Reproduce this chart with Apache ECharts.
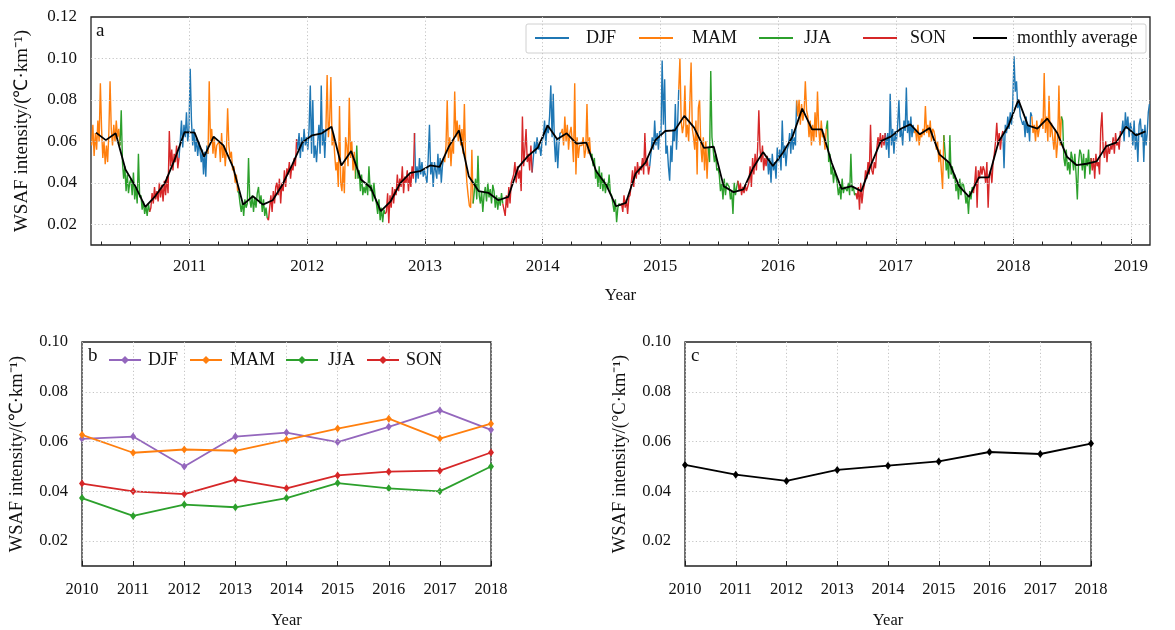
<!DOCTYPE html>
<html><head><meta charset="utf-8">
<script src="https://cdn.jsdelivr.net/npm/echarts@6/dist/echarts.min.js"></script>
<style>html,body{margin:0;padding:0;background:#fff}#c{width:1175px;height:630px}</style>
</head><body><div id="c"></div>
<script>
// ---------- DATA ----------
// Daily WSAF intensity, sampled 8 times per month, one array per season-year (Mar Y .. Feb Y+1)
const d2010 = [
.058,.068,.053,.064,.056,.070,.060,.088, .066,.052,.060,.049,.058,.050,.064,.089, .066,.058,.068,.060,.070,.062,.066,.058,
.075,.050,.042,.048,.036,.044,.035,.040, .042,.034,.045,.032,.038,.030,.054,.033, .034,.027,.031,.025,.029,.024,.030,.026,
.028,.035,.030,.038,.032,.036,.031,.040, .033,.039,.031,.041,.034,.043,.035,.065, .048,.056,.046,.054,.050,.058,.047,.052,
.060,.070,.057,.068,.062,.074,.060,.066, .095,.070,.058,.066,.055,.062,.053,.060, .060,.050,.056,.044,.055,.043,.058,.054];
const d2011 = [
.089,.060,.066,.054,.062,.052,.058,.058, .060,.050,.064,.052,.058,.048,.056,.076, .058,.052,.055,.046,.048,.040,.044,.036,
.035,.030,.026,.031,.024,.032,.028,.030, .052,.032,.028,.034,.026,.033,.028,.035, .038,.030,.034,.026,.032,.024,.028,.023,
.022,.028,.034,.026,.036,.030,.038,.040, .034,.042,.030,.040,.036,.046,.038,.047, .044,.050,.042,.048,.046,.052,.048,.061,
.056,.064,.052,.062,.055,.066,.058,.062, .056,.066,.087,.054,.080,.052,.058,.050, .060,.068,.054,.087,.058,.066,.052,.066];
const d2012 = [
.092,.062,.070,.091,.058,.064,.054,.046, .050,.038,.077,.040,.036,.048,.035,.062, .058,.048,.081,.052,.060,.046,.055,.042,
.058,.042,.046,.036,.044,.034,.038,.035, .040,.034,.048,.036,.039,.031,.040,.033, .030,.025,.032,.022,.028,.021,.027,.025,
.026,.035,.0205,.034,.028,.038,.030,.037, .034,.044,.036,.042,.038,.048,.035,.043, .040,.046,.036,.044,.038,.048,.042,.064,
.040,.048,.042,.052,.044,.050,.043,.046, .046,.040,.052,.068,.044,.050,.038,.050, .050,.042,.054,.044,.052,.040,.048,.052];
const d2013 = [
.050,.058,.080,.052,.062,.048,.060,.054, .084,.062,.070,.060,.068,.058,.066,.054, .078,.050,.040,.034,.029,.028,.056,.030,
.036,.042,.032,.053,.034,.030,.036,.026, .034,.038,.031,.040,.033,.037,.030,.039, .036,.028,.034,.027,.033,.029,.035,.030,
.030,.024,.034,.028,.038,.030,.040,.042, .044,.050,.040,.048,.042,.046,.036,.072, .048,.056,.066,.050,.054,.046,.058,.045,
.052,.060,.054,.062,.056,.058,.053,.060, .062,.070,.058,.068,.064,.072,.087,.062, .083,.060,.050,.062,.047,.058,.064,.064];
const d2014 = [
.066,.058,.072,.060,.068,.056,.064,.067, .060,.050,.088,.044,.062,.052,.058,.058, .058,.062,.052,.056,.078,.054,.062,.053,
.054,.048,.052,.042,.046,.038,.048,.037, .045,.036,.042,.035,.040,.037,.044,.035, .034,.030,.026,.032,.021,.028,.030,.029,
.030,.026,.034,.028,.032,.025,.033,.034, .040,.046,.038,.048,.042,.050,.044,.048, .046,.052,.044,.064,.048,.052,.044,.048,
.054,.062,.056,.070,.058,.064,.056,.065, .062,.099,.068,.090,.054,.058,.048,.041, .058,.050,.066,.060,.078,.056,.068,.085];
const d2015 = [
.100,.070,.064,.068,.087,.062,.068,.060, .060,.098,.066,.062,.056,.070,.044,.076, .080,.058,.050,.062,.046,.060,.042,.057,
.050,.094,.062,.056,.050,.054,.046,.047, .044,.036,.040,.032,.042,.034,.040,.039, .038,.032,.036,.025,.040,.034,.038,.041,
.036,.040,.034,.038,.035,.039,.036,.036, .040,.048,.038,.052,.044,.054,.046,.056, .075,.056,.050,.058,.046,.052,.048,.053,
.044,.052,.040,.054,.046,.050,.042,.057, .050,.056,.046,.070,.052,.058,.048,.056, .058,.064,.054,.066,.056,.062,.058,.080];
const d2016 = [
.072,.080,.068,.078,.070,.074,.089,.075, .072,.062,.070,.058,.068,.060,.074,.062, .084,.066,.058,.070,.062,.064,.056,.066,
.070,.050,.054,.044,.048,.040,.046,.046, .040,.034,.038,.032,.042,.035,.038,.038, .036,.040,.034,.054,.036,.038,.034,.035,
.032,.038,.027,.040,.030,.036,.039,.046, .042,.050,.044,.068,.046,.044,.050,.047, .056,.062,.058,.064,.057,.063,.058,.064,
.056,.064,.052,.083,.058,.066,.054,.065, .060,.068,.080,.062,.066,.058,.070,.065, .086,.064,.070,.060,.072,.062,.068,.064];
const d2017 = [
.066,.060,.068,.058,.064,.062,.066,.063, .077,.064,.068,.062,.070,.060,.066,.065, .062,.056,.060,.050,.056,.046,.037,.063,
.063,.046,.050,.042,.063,.044,.048,.042, .044,.036,.040,.032,.042,.034,.040,.039, .036,.030,.034,.025,.036,.032,.038,.035,
.040,.048,.028,.046,.042,.048,.044,.048, .046,.040,.050,.028,.044,.046,.040,.050, .054,.060,.069,.058,.064,.056,.062,.065,
.047,.068,.064,.072,.066,.074,.068,.078, .101,.084,.089,.076,.080,.072,.070,.068, .070,.062,.072,.064,.068,.060,.074,.072];
const d2018 = [
.064,.068,.060,.070,.062,.066,.068,.071, .066,.093,.064,.072,.060,.082,.062,.069, .062,.056,.066,.052,.060,.087,.058,.072,
.070,.052,.048,.056,.046,.050,.044,.055, .052,.046,.054,.044,.032,.050,.056,.054, .046,.054,.042,.052,.048,.056,.044,.052,
.046,.052,.042,.054,.048,.050,.044,.066, .074,.056,.052,.060,.050,.058,.054,.058, .056,.062,.054,.064,.058,.060,.056,.065,
.064,.070,.060,.074,.066,.072,.062,.069, .066,.058,.070,.056,.064,.050,.068,.071, .062,.066,.050,.068,.058,.064,.074,.078];

// Monthly average, Mar 2010 .. Feb 2019
const monthlyAvg = [
.0642,.0606,.0639,.0464,.0384,.0284,.0335,.0400,.0513,.0645,.0642,.0526,
.0623,.0581,.0473,.0295,.0335,.0295,.0316,.0392,.0489,.0594,.0629,.0639,
.0671,.0484,.0553,.0416,.0376,.0263,.0311,.0400,.0448,.0456,.0484,.0477,
.0577,.0653,.0432,.0360,.0352,.0316,.0332,.0473,.0529,.0569,.0677,.0610,
.0639,.0589,.0594,.0456,.0392,.0287,.0303,.0445,.0497,.0606,.0650,.0653,
.0723,.0666,.0569,.0574,.0384,.0355,.0368,.0473,.0548,.0481,.0545,.0623,
.0758,.0658,.0658,.0497,.0371,.0384,.0360,.0489,.0602,.0623,.0661,.0682,
.0634,.0665,.0537,.0497,.0384,.0332,.0426,.0426,.0598,.0674,.0800,.0677,
.0661,.0710,.0642,.0526,.0485,.0492,.0503,.0577,.0594,.0671,.0629,.0648];

// Panel b / c
const years = [2010, 2011, 2012, 2013, 2014, 2015, 2016, 2017, 2018];
const djf = [.0611, .0620, .0500, .0620, .0636, .0598, .0659, .0725, .0647];
const mam = [.0627, .0555, .0568, .0563, .0607, .0652, .0692, .0612, .0672];
const jja = [.0373, .0301, .0347, .0336, .0373, .0433, .0412, .0400, .0500];
const son = [.0431, .0400, .0389, .0447, .0412, .0464, .0479, .0483, .0556];
const annual = [.0506, .0467, .0442, .0486, .0503, .0520, .0558, .0550, .0592];

// tick labels
const topYearLabels = [2011, 2012, 2013, 2014, 2015, 2016, 2017, 2018, 2019];
const topYTicks = [0.02, 0.04, 0.06, 0.08, 0.10, 0.12];
const botYTicks = [0.02, 0.04, 0.06, 0.08, 0.10];
const seasonNames = ['DJF', 'MAM', 'JJA', 'SON'];

// ---------- BUILD ----------
const FONT = '"Liberation Serif", "Times New Roman", serif';
const seasonYears = [d2010, d2011, d2012, d2013, d2014, d2015, d2016, d2017, d2018];
const T0 = Date.UTC(2010, 2, 1), T1 = Date.UTC(2019, 2, 1);
function seasonOf(m) { return (m === 11 || m <= 1) ? 0 : (m <= 4 ? 1 : (m <= 7 ? 2 : 3)); }
const pts = [];
seasonYears.forEach((arr, k) => {
  const per = arr.length / 12;
  for (let j = 0; j < 12; j++) {
    const cm = (2 + j) % 12, y = 2010 + k + (j >= 10 ? 1 : 0);
    const s0 = Date.UTC(y, cm, 1), s1 = Date.UTC(y, cm + 1, 1);
    for (let s = 0; s < per; s++) pts.push([s0 + (s + 0.5) / per * (s1 - s0), arr[j * per + s], seasonOf(cm)]);
  }
});
const monthlyPts = monthlyAvg.map((v, i) => {
  const cm = (2 + i) % 12, y = 2010 + Math.floor((i + 2) / 12);
  const s0 = Date.UTC(y, cm, 1), s1 = Date.UTC(y, cm + 1, 1);
  return [(s0 + s1) / 2, v];
});
const yearTickTs = topYearLabels.map(y => Date.UTC(y, 0, 1));
const quarterTs = [];
for (let y = 2010; y <= 2019; y++) [3, 6, 9].forEach(m => { const t = Date.UTC(y, m, 1); if (t > T0 && t < T1) quarterTs.push(t); });

const topColors = ['#1f77b4', '#ff7f0e', '#2ca02c', '#d62728'];
const botColors = ['#9467bd', '#ff7f0e', '#2ca02c', '#d62728'];
const gridLine = { type: [1.2, 2.4], color: '#c4c4c4', width: 1 };

const series = [];
// grid lines for panel a
series.push({ type: 'line', xAxisIndex: 0, yAxisIndex: 0, data: [], z: 1, silent: true,
  markLine: { silent: true, symbol: 'none', animation: false, label: { show: false }, lineStyle: gridLine,
    data: yearTickTs.map(t => ({ xAxis: t })).concat(topYTicks.slice(0, 5).map(v => ({ yAxis: v }))) } });
seasonNames.forEach((nm, s) => {
  series.push({ name: nm, type: 'line', xAxisIndex: 0, yAxisIndex: 0, symbol: 'none', z: 2,
    lineStyle: { width: 1.4, color: topColors[s] }, itemStyle: { color: topColors[s] }, connectNulls: false,
    data: pts.map((p, i) => (p[2] === s || (pts[i + 1] && pts[i + 1][2] === s)) ? [p[0], p[1]] : [p[0], '-']) });
});
series.push({ name: 'monthly average', type: 'line', xAxisIndex: 0, yAxisIndex: 0, symbol: 'none', z: 3,
  lineStyle: { width: 1.8, color: '#000' }, itemStyle: { color: '#000' }, data: monthlyPts });
// panel b
series.push({ type: 'line', xAxisIndex: 2, yAxisIndex: 1, data: [], z: 1, silent: true,
  markLine: { silent: true, symbol: 'none', animation: false, label: { show: false }, lineStyle: gridLine,
    data: botYTicks.slice(0, 4).map(v => ({ yAxis: v })) } });
[djf, mam, jja, son].forEach((arr, s) => {
  series.push({ name: 'b-' + seasonNames[s], type: 'line', xAxisIndex: 2, yAxisIndex: 1, symbol: 'diamond', symbolSize: [6, 8],
    showSymbol: true, z: 3, lineStyle: { width: 1.8, color: botColors[s] }, itemStyle: { color: botColors[s] },
    data: years.map((y, i) => [y, arr[i]]) });
});
// panel c
series.push({ type: 'line', xAxisIndex: 3, yAxisIndex: 2, data: [], z: 1, silent: true,
  markLine: { silent: true, symbol: 'none', animation: false, label: { show: false }, lineStyle: gridLine,
    data: botYTicks.slice(0, 4).map(v => ({ yAxis: v })) } });
series.push({ name: 'annual', type: 'line', xAxisIndex: 3, yAxisIndex: 2, symbol: 'diamond', symbolSize: [6, 8], z: 3,
  lineStyle: { width: 1.8, color: '#000' }, itemStyle: { color: '#000' }, data: years.map((y, i) => [y, annual[i]]) });

const gridBox = { show: true, borderColor: '#222', borderWidth: 1.3, backgroundColor: 'transparent' };
const txt = { color: '#111', fontFamily: FONT };

function legendItem(name, left, top, padLeft, fs, w, fmt, plainLine) {
  const l = { data: [name], left: left, top: top, padding: 0, itemWidth: w, itemHeight: plainLine ? 2 : 10, selectedMode: false, z: 10,
    formatter: fmt, textStyle: Object.assign({ fontSize: fs, padding: [0, 0, 0, padLeft] }, txt) };
  if (plainLine) l.icon = 'rect';
  return l;
}
const legends = [
  legendItem('DJF', 535, 29, 12, 18, 34, undefined, true),
  legendItem('MAM', 639, 29, 14, 18, 34, undefined, true),
  legendItem('JJA', 759, 29, 6, 18, 34, undefined, true),
  legendItem('SON', 863, 29, 8, 18, 34, undefined, true),
  legendItem('monthly average', 973, 29, 5, 18, 34, undefined, true),
  legendItem('b-DJF', 108, 351, 2, 18, 32, n => n.slice(2)),
  legendItem('b-MAM', 189, 351, 3, 18, 32, n => n.slice(2)),
  legendItem('b-JJA', 285, 351, 5, 18, 32, n => n.slice(2)),
  legendItem('b-SON', 366, 351, 2, 18, 32, n => n.slice(2))
];

function botX(grid) {
  return { gridIndex: grid, type: 'value', min: 2010, max: 2018, interval: 1,
    axisLine: { show: false }, axisTick: { show: true, inside: true, length: 5, lineStyle: { color: '#222' } },
    axisLabel: Object.assign({ fontSize: 16.5, margin: 15, formatter: v => String(v) }, txt),
    splitLine: { show: true, lineStyle: gridLine },
    name: 'Year', nameLocation: 'middle', nameGap: 46, nameTextStyle: Object.assign({ fontSize: 16.5 }, txt) };
}
function botY(grid, title) {
  return { gridIndex: grid, type: 'value', min: 0.01, max: 0.10, interval: 0.01,
    axisLine: { show: false }, axisTick: { show: false },
    axisLabel: Object.assign({ fontSize: 16.5, margin: 14, customValues: botYTicks, formatter: v => v.toFixed(2) }, txt),
    splitLine: { show: false },
    name: title, nameLocation: 'middle', nameGap: 55, nameTextStyle: Object.assign({ fontSize: 18.5 }, txt) };
}

const option = {
  animation: false,
  backgroundColor: '#fff',
  textStyle: { fontFamily: FONT },
  grid: [
    Object.assign({ left: 91, top: 17, width: 1059, height: 228 }, gridBox),
    Object.assign({ left: 82, top: 342, width: 409, height: 226 }, gridBox),
    Object.assign({ left: 685, top: 342, width: 406, height: 226 }, gridBox)
  ],
  xAxis: [
    { gridIndex: 0, type: 'value', min: T0, max: T1,
      axisLine: { show: false },
      axisTick: { show: true, inside: true, length: 6, customValues: yearTickTs, lineStyle: { color: '#222' } },
      axisLabel: Object.assign({ fontSize: 17, margin: 13, customValues: yearTickTs, formatter: v => String(new Date(v).getUTCFullYear()) }, txt),
      splitLine: { show: false },
      name: 'Year', nameLocation: 'middle', nameGap: 42, nameTextStyle: Object.assign({ fontSize: 17 }, txt) },
    { gridIndex: 0, type: 'value', min: T0, max: T1, position: 'bottom',
      axisLine: { show: false },
      axisTick: { show: true, inside: true, length: 3.5, customValues: quarterTs, lineStyle: { color: '#222' } },
      axisLabel: { show: false }, splitLine: { show: false } },
    botX(1), botX(2)
  ],
  yAxis: [
    { gridIndex: 0, type: 'value', min: 0.01, max: 0.12, interval: 0.01,
      axisLine: { show: false }, axisTick: { show: false },
      axisLabel: Object.assign({ fontSize: 17, margin: 14, customValues: topYTicks, formatter: v => v.toFixed(2) }, txt),
      splitLine: { show: false },
      name: 'WSAF intensity/(\u2103\u00b7km\u207b\u00b9)', nameLocation: 'middle', nameGap: 59,
      nameTextStyle: Object.assign({ fontSize: 19 }, txt) },
    botY(1, 'WSAF intensity/(\u2103\u00b7km\u207b\u00b9)'),
    botY(2, 'WSAF intensity/(\u00b0C\u00b7km\u207b\u00b9)')
  ],
  legend: legends,
  graphic: [
    { type: 'rect', z: 5, shape: { x: 526, y: 24, width: 620, height: 29, r: 2 },
      style: { fill: 'rgba(255,255,255,0.8)', stroke: '#d0d0d0', lineWidth: 1 } },
    { type: 'text', z: 6, left: 96, top: 22, style: { text: 'a', font: '19px ' + FONT, fill: '#111' } },
    { type: 'text', z: 6, left: 88, top: 347, style: { text: 'b', font: '19px ' + FONT, fill: '#111' } },
    { type: 'text', z: 6, left: 691, top: 347, style: { text: 'c', font: '19px ' + FONT, fill: '#111' } }
  ],
  series: series
};
const chart = echarts.init(document.getElementById('c'), null, { renderer: 'canvas' });
chart.setOption(option);
</script></body></html>
